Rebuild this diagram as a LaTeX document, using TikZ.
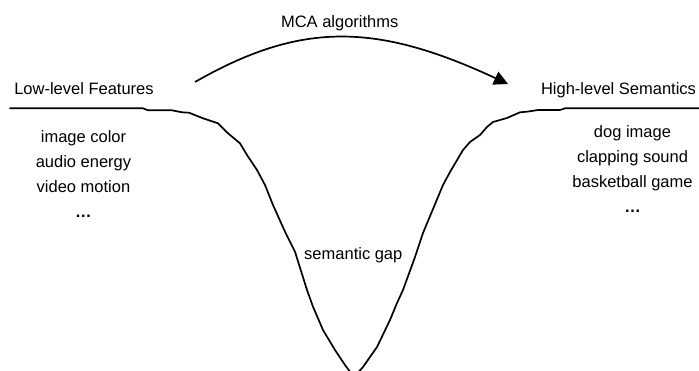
\documentclass[tikz,border=0pt]{standalone}
\usepackage{fontspec}
\setmainfont{Liberation Sans}
\usetikzlibrary{arrows.meta}
\tikzset{
  lbl/.style={inner sep=0pt, font=\fontsize{16.5}{25}\selectfont},
  gapline/.style={line width=1.7pt, line join=round, line cap=round},
  flow/.style={line width=1.7pt, -{Triangle[length=14pt,width=14pt]}}
}
\begin{document}
\begin{tikzpicture}[x=1pt,y=-1pt]
\useasboundingbox (0,0) rectangle (699,370);
\clip (0,0) rectangle (699,370);

% headings
\node[lbl, anchor=base] (low)  at (84,94.5)  {Low-level Features};
\node[lbl, anchor=base] (high) at (618.5,94.5) {High-level Semantics};
\node[lbl, anchor=base] (mca)  at (339.7,27.3) {MCA algorithms};
\node[lbl, anchor=base] (gap)  at (353.3,259.3) {semantic gap};

% example lists
\node[lbl, anchor=north, align=center] (lowlist) at (83.5,130)
  {image color\\audio energy\\video motion\\\textbf{…}};
\node[lbl, anchor=north, align=center] (highlist) at (632.5,125.5)
  {dog image\\clapping sound\\basketball game\\\textbf{…}};

% the gap between the two levels
\draw[gapline] plot coordinates {
  (10,108.3) (143,108.3) (148,110.3) (172,110.3) (182,112.3) (189,112.7)
  (203,118.3) (218,123.3) (228,133.3) (240,143.3) (247,155) (257,170)
  (265,185) (273,205) (285,231.7) (295,251.7) (307,290) (313,306.7)
  (323,330) (335,350) (345,365) (354,377) (363,367) (377,347) (390,320)
  (397,303) (403,290) (415,257) (423,233) (443,185) (450,172) (463,150)
  (470,142) (480,135) (487,127) (493,122) (507,118) (520,112.3)
  (527,111.7) (538,110) (560,110) (565,108.3) (699,108.3)};

% arrow over the gap
\coordinate (arrfrom) at (195,82);
\coordinate (arrto) at (508,84);
\draw[flow] (arrfrom) .. controls (300,22) and (375,22) .. (arrto);
\end{tikzpicture}
\end{document}
